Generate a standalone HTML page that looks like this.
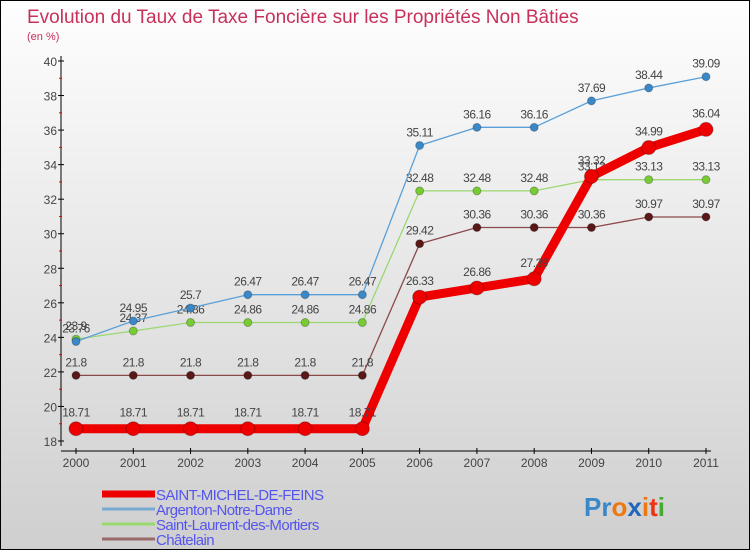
<!DOCTYPE html>
<html><head><meta charset="utf-8">
<style>
body{margin:0;}
#wrap{position:relative;width:750px;height:550px;box-sizing:border-box;border:1px solid #000;background:linear-gradient(#fefefe,#cfcfcf);overflow:hidden;font-family:"Liberation Sans",sans-serif;}
svg{position:absolute;left:0;top:0;}
</style></head>
<body>
<div id="wrap">
<svg id="chart" width="750" height="550">
<text x="26" y="22" font-size="19" fill="#c8305a">Evolution du Taux de Taxe Foncière sur les Propriétés Non Bâties</text>
<text x="26" y="39" font-size="11" fill="#c8305a">(en %)</text>
</svg>
</div>
<script>
const years=[2000,2001,2002,2003,2004,2005,2006,2007,2008,2009,2010,2011];
const smdf=[18.71,18.71,18.71,18.71,18.71,18.71,26.33,26.86,27.39,33.32,34.99,36.04];
const argenton=[23.76,24.95,25.7,26.47,26.47,26.47,35.11,36.16,36.16,37.69,38.44,39.09];
const laurent=[23.9,24.37,24.86,24.86,24.86,24.86,32.48,32.48,32.48,33.13,33.13,33.13];
const chatelain=[21.8,21.8,21.8,21.8,21.8,21.8,29.42,30.36,30.36,30.36,30.97,30.97];
const yTicks=[18,20,22,24,26,28,30,32,34,36,38,40];
const seriesNames=["SAINT-MICHEL-DE-FEINS","Argenton-Notre-Dame","Saint-Laurent-des-Mortiers","Châtelain"];

const svg=document.getElementById('chart');
const NS="http://www.w3.org/2000/svg";
const yMin=18,yMax=40,py0=440,py1=60;
const X=i=>75+i*(705-75)/(years.length-1);
const Y=v=>py0-(v-yMin)*(py0-py1)/(yMax-yMin);
function mk(t,a){const e=document.createElementNS(NS,t);for(const k in a)e.setAttribute(k,a[k]);svg.appendChild(e);return e;}

// axes
let ax=mk('line',{x1:60,y1:55,x2:60,y2:445,stroke:'#000','stroke-width':1});


let xa=mk('line',{x1:60,y1:450,x2:710,y2:450,stroke:'#000','stroke-width':1});


yTicks.forEach(v=>{
  const y=Y(v);
  let t=mk('line',{x1:57,y1:y,x2:63,y2:y,stroke:'#000'});
  
  
  let l=mk('text',{x:56,y:y+5,'text-anchor':'end','font-size':12,fill:'#444'});
  l.textContent=v;
  
  
  if(v<yMax){
    let m=mk('line',{x1:58,y1:Y(v+1),x2:61,y2:Y(v+1),stroke:'#e00'});
    
    
  }
});
years.forEach((yr,i)=>{
  let t=mk('line',{x1:X(i),y1:447,x2:X(i),y2:453,stroke:'#000'});
  
  
  let l=mk('text',{x:X(i),y:466,'text-anchor':'middle','font-size':12,fill:'#444'});
  l.textContent=yr;
  
  
});

function series(vals,color,width,r,dot,name){
  const g=document.createElementNS(NS,'g');svg.appendChild(g);
  
  
  const p=document.createElementNS(NS,'polyline');
  p.setAttribute('points',vals.map((v,i)=>X(i)+','+Y(v)).join(' '));
  p.setAttribute('fill','none');p.setAttribute('stroke',color);p.setAttribute('stroke-width',width);
  p.setAttribute('stroke-linejoin','round');
  
  
  g.appendChild(p);
  vals.forEach((v,i)=>{
    const c=document.createElementNS(NS,'circle');
    c.setAttribute('cx',X(i));c.setAttribute('cy',Y(v));c.setAttribute('r',r);
    c.setAttribute('fill',dot);c.setAttribute('stroke','rgba(0,0,0,0.25)');
    
    
    g.appendChild(c);
    const t=document.createElementNS(NS,'text');
    t.setAttribute('x',X(i));t.setAttribute('y',Y(v)-r-5);
    t.setAttribute('text-anchor','middle');t.setAttribute('font-size',12);t.setAttribute('fill','#444');
    t.setAttribute('letter-spacing','-0.5');
    t.textContent=v;
    
    
    g.appendChild(t);
  });
}
series(chatelain,'#8a4a4a',1.3,4,'#5a1818','chatelain');
series(laurent,'#9ad870',1.3,4,'#77cc33','saint-laurent');
series(argenton,'#5aa0d8',1.3,4,'#3a88c8','argenton');
series(smdf,'#ee0000',9,7,'#ee0000','saint-michel');

// legend
const legColors=['#ee0000','#78aad0','#9ad870','#9a6a6a'];
const legW=[7,3,3,3];
seriesNames.forEach((n,i)=>{
  const y=493+i*15;
  let l=mk('line',{x1:101,y1:y,x2:154,y2:y,stroke:legColors[i],'stroke-width':legW[i]});
  
  
  let t=mk('text',{x:155,y:y+6,'font-size':15,fill:'#5555ee','letter-spacing':'-0.6'});
  t.textContent=n;
  
  
});
// logo
const logo=mk('text',{x:583,y:515,'font-size':26,'font-weight':'bold'});


[['P','#3a88c8'],['r','#3a88c8'],['o','#ee7711'],['x','#2266bb'],['i','#ee7711'],['t','#ee3311'],['i','#44aa33']].forEach(([c,col])=>{
  const s=document.createElementNS(NS,'tspan');s.setAttribute('fill',col);s.textContent=c;logo.appendChild(s);
});
</script>
</body></html>
